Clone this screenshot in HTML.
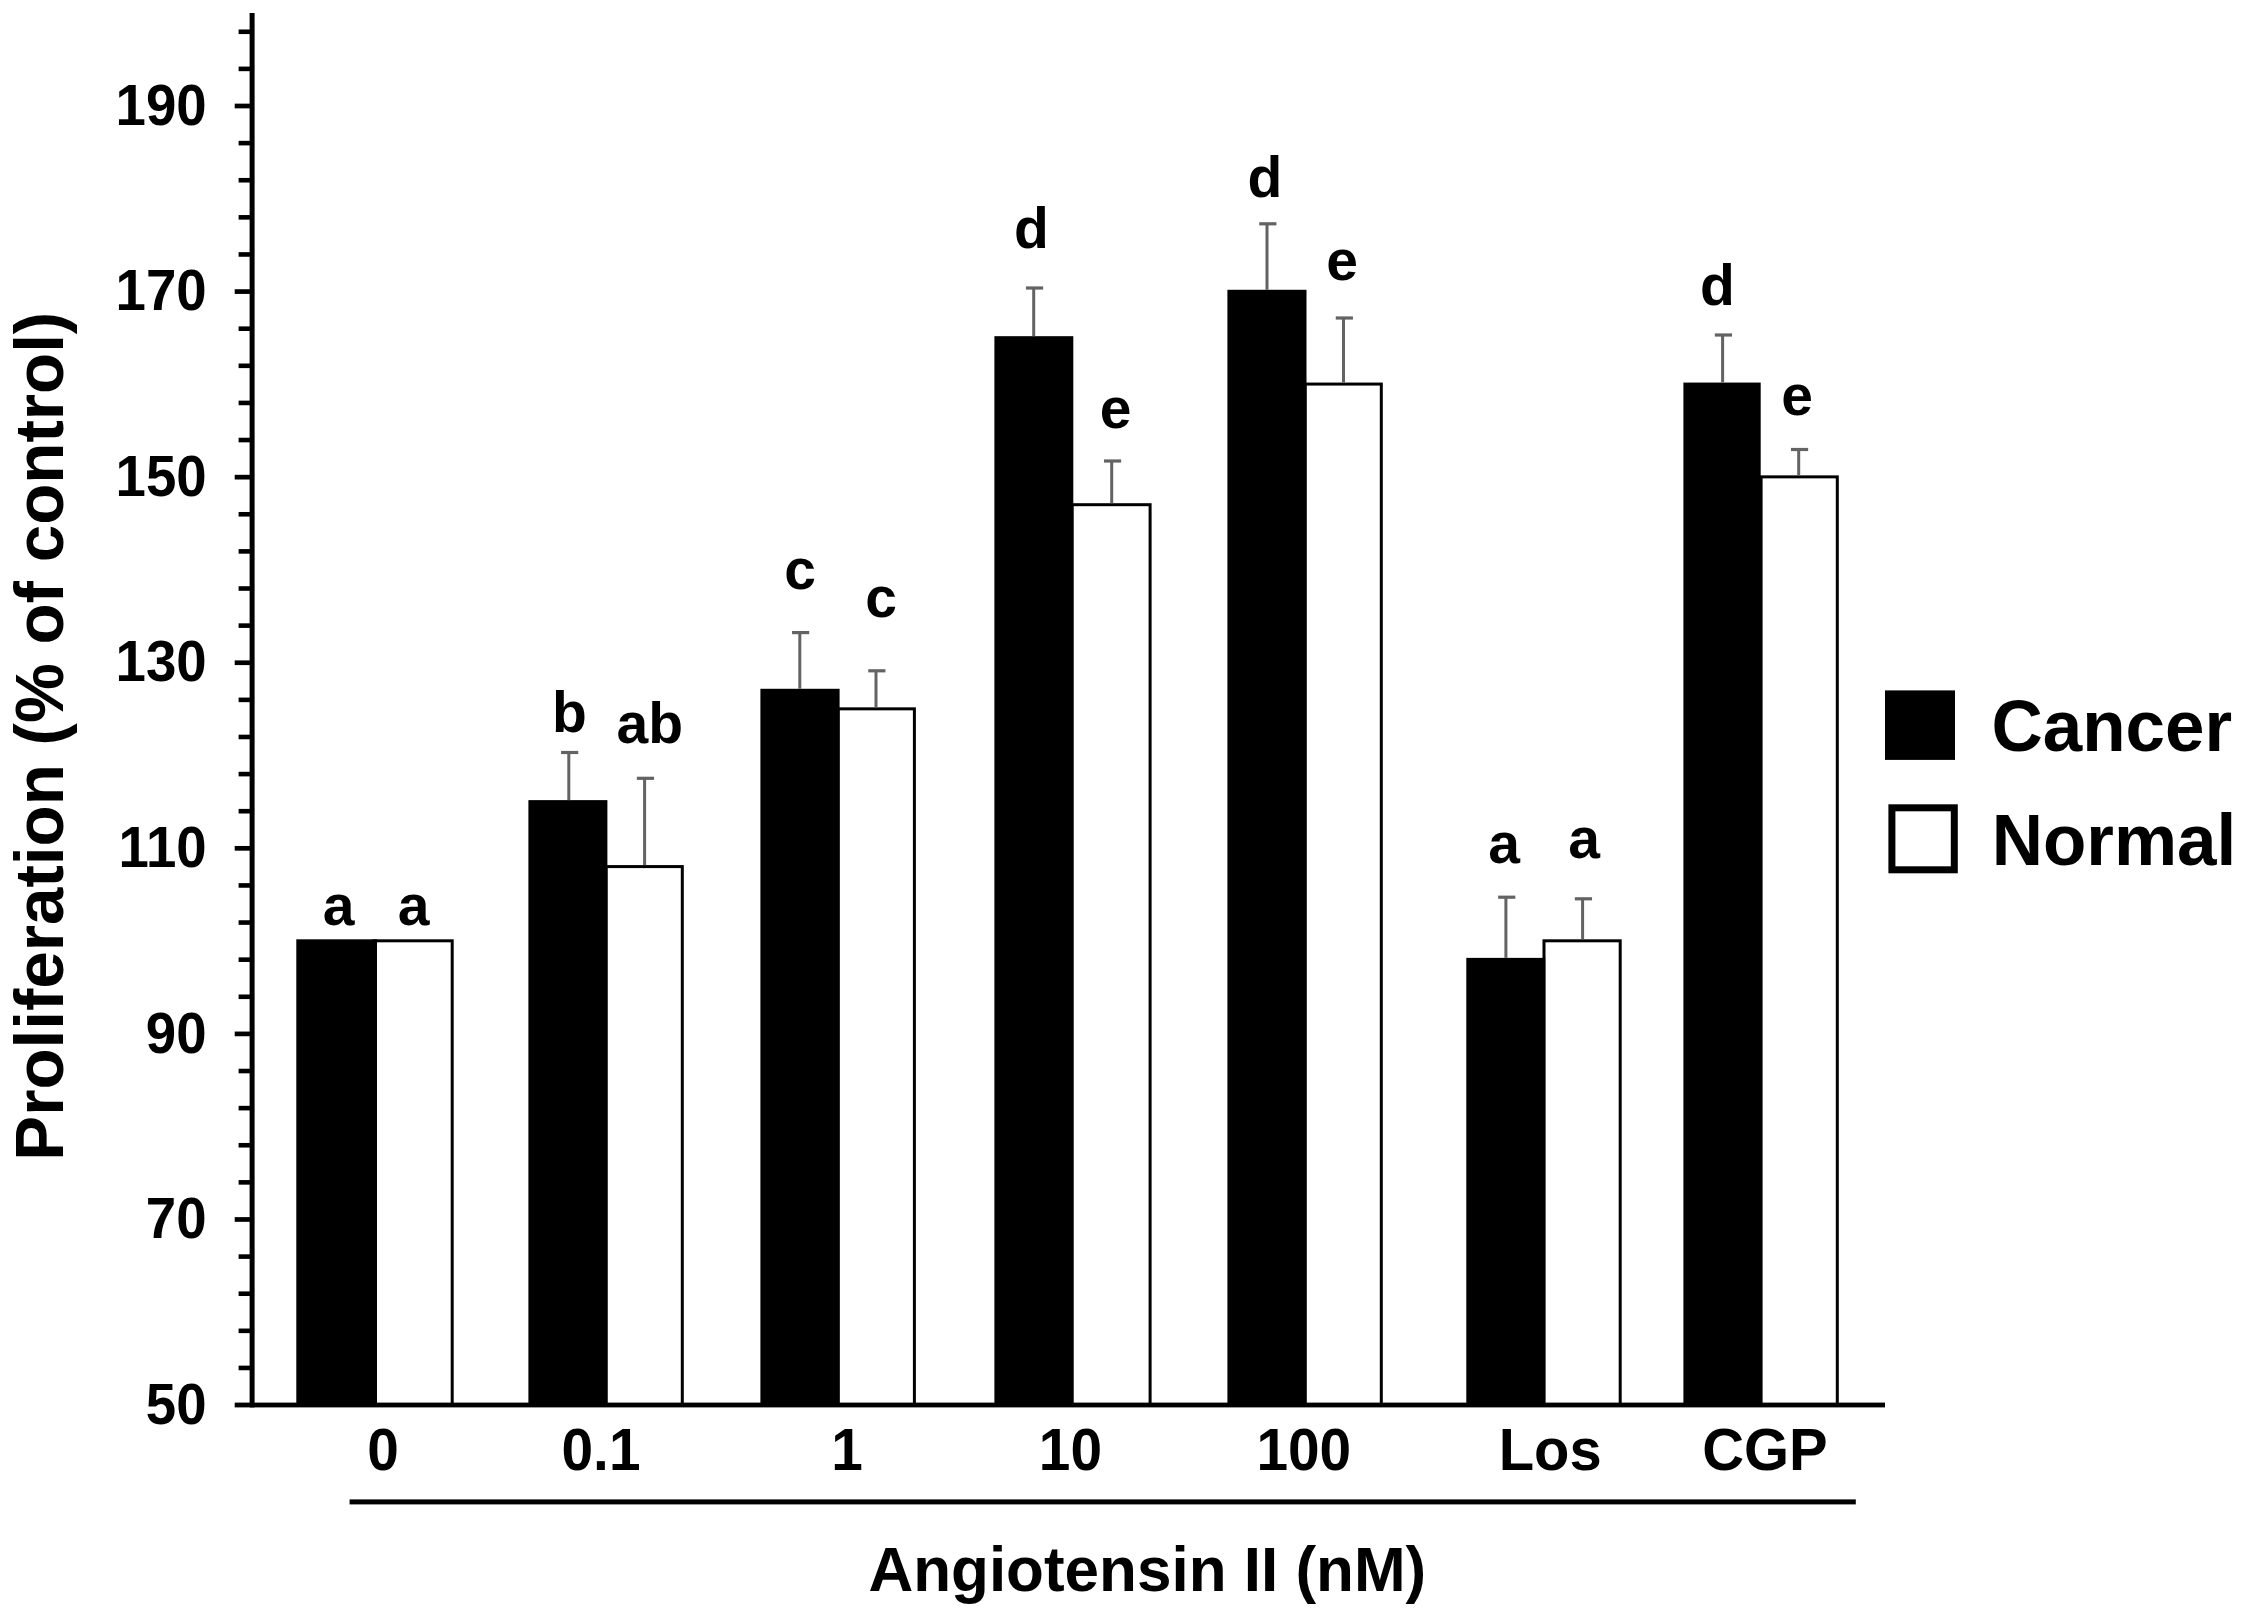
<!DOCTYPE html>
<html lang="en"><head><meta charset="utf-8"><title>Proliferation chart</title>
<style>html,body{margin:0;padding:0;background:#fff}svg{display:block}text{font-family:"Liberation Sans",sans-serif;font-weight:bold;fill:#000}</style>
</head><body>
<svg width="2247" height="1610" viewBox="0 0 2247 1610">
<rect x="0" y="0" width="2247" height="1610" fill="#fff"/>
<g id="bars">
<rect x="374.00" y="940.81" width="78.20" height="464.19" fill="#fff" stroke="#000" stroke-width="3"/>
<rect x="296.30" y="939.31" width="80.70" height="465.69" fill="#000"/>
<rect x="606.10" y="866.58" width="76.20" height="538.42" fill="#fff" stroke="#000" stroke-width="3"/>
<rect x="528.40" y="800.12" width="79.00" height="604.88" fill="#000"/>
<rect x="838.10" y="708.84" width="76.30" height="696.16" fill="#fff" stroke="#000" stroke-width="3"/>
<rect x="760.40" y="688.78" width="79.20" height="716.22" fill="#000"/>
<rect x="1072.10" y="504.70" width="78.00" height="900.30" fill="#fff" stroke="#000" stroke-width="3"/>
<rect x="994.40" y="336.18" width="78.90" height="1068.83" fill="#000"/>
<rect x="1305.10" y="384.07" width="76.20" height="1020.93" fill="#fff" stroke="#000" stroke-width="3"/>
<rect x="1227.40" y="289.78" width="79.10" height="1115.22" fill="#000"/>
<rect x="1544.00" y="940.81" width="76.20" height="464.19" fill="#fff" stroke="#000" stroke-width="3"/>
<rect x="1466.30" y="957.87" width="78.90" height="447.13" fill="#000"/>
<rect x="1761.10" y="476.86" width="76.20" height="928.14" fill="#fff" stroke="#000" stroke-width="3"/>
<rect x="1683.40" y="382.57" width="77.30" height="1022.43" fill="#000"/>
</g>
<g id="errors" stroke="#636363" fill="none">
<path d="M568.80 752.50V800.12" stroke-width="3"/>
<path d="M561.05 752.50H578.25" stroke-width="3.2"/>
<path d="M644.60 778.30V865.08" stroke-width="3"/>
<path d="M636.85 778.30H654.05" stroke-width="3.2"/>
<path d="M799.80 632.60V688.78" stroke-width="3"/>
<path d="M792.05 632.60H809.25" stroke-width="3.2"/>
<path d="M876.00 670.80V707.34" stroke-width="3"/>
<path d="M868.25 670.80H885.45" stroke-width="3.2"/>
<path d="M1033.70 288.00V336.18" stroke-width="3"/>
<path d="M1025.95 288.00H1043.15" stroke-width="3.2"/>
<path d="M1111.70 461.00V503.20" stroke-width="3"/>
<path d="M1103.95 461.00H1121.15" stroke-width="3.2"/>
<path d="M1267.00 223.80V289.78" stroke-width="3"/>
<path d="M1259.25 223.80H1276.45" stroke-width="3.2"/>
<path d="M1343.50 318.00V382.57" stroke-width="3"/>
<path d="M1335.75 318.00H1352.95" stroke-width="3.2"/>
<path d="M1505.90 897.20V957.87" stroke-width="3"/>
<path d="M1498.15 897.20H1515.35" stroke-width="3.2"/>
<path d="M1582.60 898.80V939.31" stroke-width="3"/>
<path d="M1574.85 898.80H1592.05" stroke-width="3.2"/>
<path d="M1722.60 335.00V382.57" stroke-width="3"/>
<path d="M1714.85 335.00H1732.05" stroke-width="3.2"/>
<path d="M1798.70 449.50V475.36" stroke-width="3"/>
<path d="M1790.95 449.50H1808.15" stroke-width="3.2"/>
</g>
<g id="axes" fill="#000">
<rect x="249.6" y="13" width="5" height="1394.4"/>
<rect x="234.7" y="1402.6" width="1650.3" height="4.8"/>
<rect x="238.6" y="29.47" width="12" height="4.6"/>
<rect x="238.6" y="66.58" width="12" height="4.6"/>
<rect x="234.7" y="103.65" width="16" height="4.7"/>
<rect x="238.6" y="140.82" width="12" height="4.6"/>
<rect x="238.6" y="177.93" width="12" height="4.6"/>
<rect x="238.6" y="215.05" width="12" height="4.6"/>
<rect x="238.6" y="252.16" width="12" height="4.6"/>
<rect x="234.7" y="289.23" width="16" height="4.7"/>
<rect x="238.6" y="326.40" width="12" height="4.6"/>
<rect x="238.6" y="363.51" width="12" height="4.6"/>
<rect x="238.6" y="400.63" width="12" height="4.6"/>
<rect x="238.6" y="437.74" width="12" height="4.6"/>
<rect x="234.7" y="474.81" width="16" height="4.7"/>
<rect x="238.6" y="511.98" width="12" height="4.6"/>
<rect x="238.6" y="549.09" width="12" height="4.6"/>
<rect x="238.6" y="586.21" width="12" height="4.6"/>
<rect x="238.6" y="623.32" width="12" height="4.6"/>
<rect x="234.7" y="660.39" width="16" height="4.7"/>
<rect x="238.6" y="697.56" width="12" height="4.6"/>
<rect x="238.6" y="734.67" width="12" height="4.6"/>
<rect x="238.6" y="771.79" width="12" height="4.6"/>
<rect x="238.6" y="808.90" width="12" height="4.6"/>
<rect x="234.7" y="845.97" width="16" height="4.7"/>
<rect x="238.6" y="883.14" width="12" height="4.6"/>
<rect x="238.6" y="920.25" width="12" height="4.6"/>
<rect x="238.6" y="957.37" width="12" height="4.6"/>
<rect x="238.6" y="994.48" width="12" height="4.6"/>
<rect x="234.7" y="1031.55" width="16" height="4.7"/>
<rect x="238.6" y="1068.72" width="12" height="4.6"/>
<rect x="238.6" y="1105.83" width="12" height="4.6"/>
<rect x="238.6" y="1142.95" width="12" height="4.6"/>
<rect x="238.6" y="1180.06" width="12" height="4.6"/>
<rect x="234.7" y="1217.13" width="16" height="4.7"/>
<rect x="238.6" y="1254.30" width="12" height="4.6"/>
<rect x="238.6" y="1291.41" width="12" height="4.6"/>
<rect x="238.6" y="1328.53" width="12" height="4.6"/>
<rect x="238.6" y="1365.64" width="12" height="4.6"/>
<rect x="349.6" y="1499.4" width="1506.2" height="5"/>
</g>
<g id="ylabels" font-size="54.6" text-anchor="end">
<text transform="translate(206.6 124.6) scale(1 1.04)">190</text>
<text transform="translate(206.6 310.2) scale(1 1.04)">170</text>
<text transform="translate(206.6 495.8) scale(1 1.04)">150</text>
<text transform="translate(206.6 681.3) scale(1 1.04)">130</text>
<text transform="translate(206.6 866.9) scale(1 1.04)">110</text>
<text transform="translate(206.6 1052.5) scale(1 1.04)">90</text>
<text transform="translate(206.6 1238.1) scale(1 1.04)">70</text>
<text transform="translate(206.6 1423.7) scale(1 1.04)">50</text>
</g>
<g id="xlabels" font-size="56.8" text-anchor="middle">
<text transform="translate(383.0 1470.4) scale(1.0 1.04)">0</text>
<text transform="translate(601.0 1470.4) scale(1.0 1.04)">0.1</text>
<text transform="translate(847.0 1470.4) scale(1.0 1.04)">1</text>
<text transform="translate(1070.4 1470.4) scale(1.0 1.04)">10</text>
<text transform="translate(1303.8 1470.4) scale(1.0 1.04)">100</text>
<text transform="translate(1550.2 1470.4) scale(1.02 1.04)">Los</text>
<text transform="translate(1764.9 1470.4) scale(1.02 1.04)">CGP</text>
</g>
<g id="letters" font-size="57" text-anchor="middle">
<text x="338.5" y="924.6">a</text>
<text x="413.6" y="924.6">a</text>
<text x="569.4" y="731.5">b</text>
<text x="649.8" y="742.7">ab</text>
<text x="800.0" y="589.0">c</text>
<text x="881.1" y="616.8">c</text>
<text x="1031.4" y="248.0">d</text>
<text x="1115.6" y="427.7">e</text>
<text x="1264.8" y="197.3">d</text>
<text x="1342.0" y="280.2">e</text>
<text x="1504.0" y="862.5">a</text>
<text x="1584.0" y="858.2">a</text>
<text x="1717.5" y="304.5">d</text>
<text x="1797.0" y="415.3">e</text>
</g>
<g id="legend">
<rect x="1885" y="690.4" width="70" height="69.5" fill="#000"/>
<rect x="1891.9" y="807.8" width="62.4" height="62" fill="#fff" stroke="#000" stroke-width="7"/>
<text transform="translate(1991.4 750.9) scale(1 1.025)" font-size="71">Cancer</text>
<text transform="translate(1991.7 864.8) scale(1 1.025)" font-size="71">Normal</text>
</g>
<text id="xtitle" transform="translate(868.4 1591.2) scale(1 1.025)" font-size="62">Angiotensin II (nM)</text>
<text id="ytitle" transform="translate(63.4 1160.7) rotate(-90) scale(1 1.015)" font-size="67.34">Proliferation (% of control)</text>
</svg></body></html>
